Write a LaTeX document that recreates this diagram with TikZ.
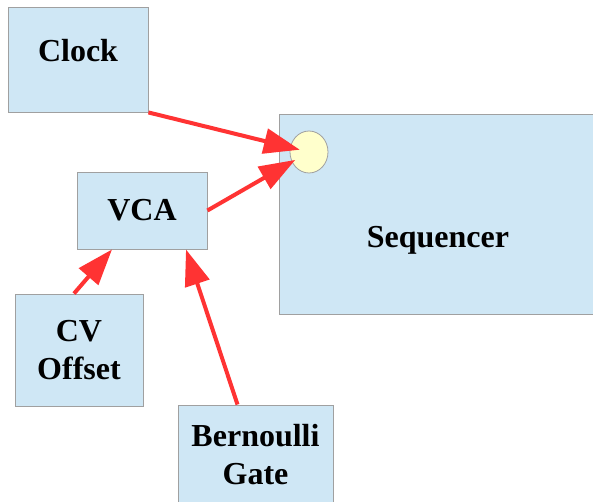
\documentclass[tikz,border=0pt]{standalone}
\usepackage{fontspec}
\setmainfont{Liberation Serif}
\usepackage{tikz}
\usetikzlibrary{
	positioning,
	shapes.geometric,
	arrows.meta
}

\definecolor{boxblue}{HTML}{CFE7F5}
\definecolor{boxline}{HTML}{A0A0A0}
\definecolor{jackyellow}{HTML}{FFFFCC}
\definecolor{patchred}{HTML}{FF3333}

\tikzset{
	module/.style={draw=boxline,fill=boxblue,line width=0.9pt,inner sep=0pt,
		align=center,font=\bfseries\fontsize{32}{38}\selectfont},
	jack/.style={ellipse,draw=boxline,fill=jackyellow,line width=0.8pt,inner sep=0pt,
		minimum width=38pt,minimum height=42pt},
	patch/.style={draw=patchred,line width=4pt,-{Triangle[length=36pt,width=25pt]}}
}

\begin{document}
\begin{tikzpicture}[x=1pt,y=-1pt]
	\clip (0,0) rectangle (593,502);
	\fill[white] (0,0) rectangle (593,502);
	\draw
		node [module,minimum width=140pt,minimum height=105pt,text depth=19pt]  (clock) at (78,59.5)   {Clock}
		node [module,minimum width=318pt,minimum height=200pt,text height=74pt] (seq)   at (438,214)   {Sequencer}
		node [jack]                                                             (in)    at (309,152)   {}
		node [module,minimum width=130pt,minimum height=77pt]                   (vca)   at (142,210.5) {VCA}
		node [module,minimum width=128pt,minimum height=112pt]                  (cv)    at (79,350)    {CV\\Offset}
		node [module,minimum width=155pt,minimum height=100pt]                  (bern)  at (255.5,455) {Bernoulli\\Gate}

		(clock.south east)         edge[patch,shorten >=-10pt] (in)
		(vca.east)                 edge[patch,shorten >=-4pt]  (in)
		([xshift=-5pt]cv.north)    edge[patch] ([xshift=-30pt]vca.south)
		([xshift=-18pt]bern.north) edge[patch] ([xshift=44pt]vca.south)
	;
\end{tikzpicture}
\end{document}
